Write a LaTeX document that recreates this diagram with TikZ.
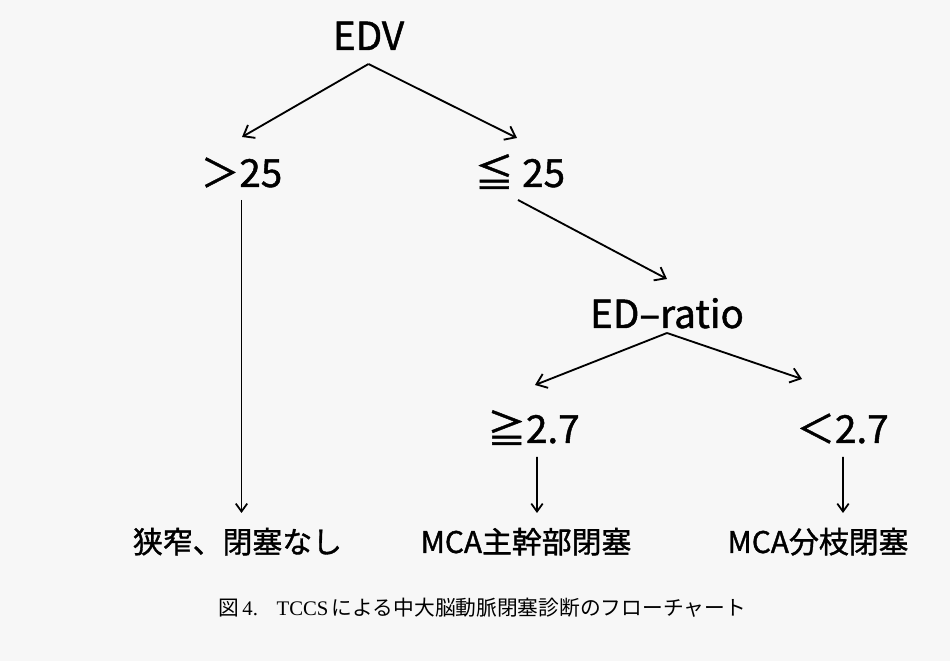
\documentclass[tikz,border=0pt]{standalone}
\usepackage{fontspec}
\setmainfont{Liberation Serif}
\newfontfamily\cjk{Noto Sans CJK JP}[FakeBold=1.2]
\newfontfamily\cjkcap{Noto Sans CJK JP}
\usetikzlibrary{arrows.meta,calc}
\begin{document}
\begin{tikzpicture}[x=0.02cm,y=-0.02cm,
  lbl/.style={font=\cjk\fontsize{22}{24}\selectfont, anchor=base, inner sep=0pt},
  leaf/.style={font=\cjk\fontsize{17}{19}\selectfont, anchor=base, inner sep=0pt},
  capt/.style={font=\fontsize{11.8}{13}\selectfont, anchor=base, inner sep=0pt},
  arr/.style={line width=1.05pt, -{Straight Barb[length=5.5pt,width=8.5pt,line width=1.05pt]}},
  varr/.style={line width=0.95pt, -{Straight Barb[length=4.5pt,width=6.5pt,line width=1pt]}},
  ]
\fill[white!97!black] (0,0) rectangle (950,661);
\useasboundingbox (0,0) rectangle (950,661);

\node[lbl] (edv) at (368.5,50) {EDV};
\node[lbl] (gt) at (241.5,187) {＞25};
\node[lbl] (le) at (520,187) {≦ 25};
\node[lbl] (edr) at (667,328) {ED–ratio};
\node[lbl] (ge) at (533.5,443) {≧2.7};
\node[lbl] (lt) at (842.5,443) {＜2.7};
\node[leaf] (l1) at (237.5,553) {狭窄、閉塞なし};
\node[leaf] (l2) at (526,553) {MCA主幹部閉塞};
\node[leaf] (l3) at (818,553) {MCA分枝閉塞};
\node[capt] (cap) at (482,616) {{\cjkcap 図}\,4.\hspace{0.9em}TCCS\,{\cjkcap による中大脳動脈閉塞診断のフローチャート}};

\draw[arr] ($(edv.base)+(0,14)$) -- ($(gt.base)+(0.5,-50)$);
\draw[arr] ($(edv.base)+(0,14)$) -- ($(le.base)+(-3,-49)$);
\draw[arr] ($(le.base)+(-2,13)$) -- ($(edr.base)+(0,-49)$);
\draw[varr] ($(gt.base)+(0,13)$) -- ($(l1.base)+(4,-40)$);
\draw[arr] ($(edr.base)+(0,5)$) -- ($(ge.base)+(1.5,-58)$);
\draw[arr] ($(edr.base)+(0,5)$) -- ($(lt.base)+(-40.5,-64)$);
\draw[varr] ($(ge.base)+(3.5,14)$) -- ($(l2.base)+(11,-40)$);
\draw[varr] ($(lt.base)+(0.5,14)$) -- ($(l3.base)+(25,-40)$);
\end{tikzpicture}
\end{document}
